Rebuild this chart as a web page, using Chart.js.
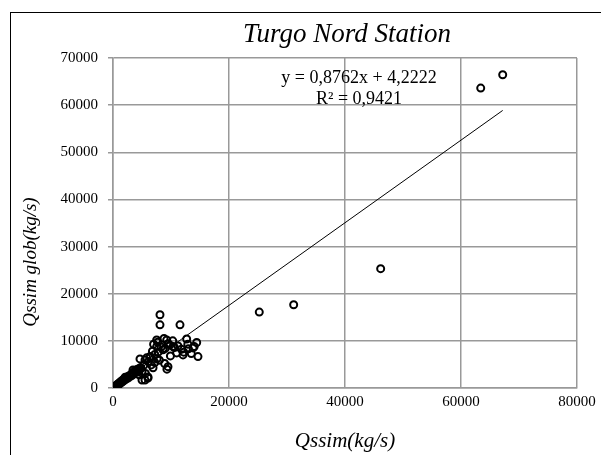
<!DOCTYPE html>
<html>
<head>
<meta charset="utf-8">
<script src="https://cdn.jsdelivr.net/npm/chart.js@4.4.1/dist/chart.umd.min.js"></script>
<style>
  body { margin: 0; background: #fff; }
  #wrap { position: relative; width: 601px; height: 455px; overflow: hidden; }
  #frame { position: absolute; left: 10px; top: 12px; width: 700px; height: 600px; border: 1px solid #000; }
  canvas { position: absolute; left: 0; top: 0; }
</style>
</head>
<body>
<div id="wrap"><div id="frame"></div><canvas id="scatterChart" width="601" height="455"></canvas></div>
<script>
const qssim = [
    0, 100, 200, 300, 400, 500, 600, 700, 800, 900, 1000, 1100, 1200, 1300, 1400, 1500,
    1600, 1700, 1800, 1900, 2000, 2100, 2200, 2300, 2500, 2600, 2800, 3000, 3200, 3300,
    3500, 3600, 3800, 4000, 4200, 4300, 4500, 4600, 4800, 5000,
    5517, 4655, 6030, 5517, 4310, 4655, 6380, 6030, 5000, 3450,
    8100, 8100, 11550, 7530, 9260, 12700, 14430, 13800, 14650, 12070, 10980, 9480, 9300,
    7530, 8620, 10340, 6380, 7000, 7700, 8300, 9000, 9800, 10600, 11200, 12200, 13000,
    13500, 6800, 7200, 7600, 8000, 8900, 6100, 5800, 6600, 7200, 5300, 9900, 12900, 11800,
    10300, 8800, 9500, 14000, 6900, 5600, 7800,
    25220, 31150, 46150, 63400, 67190
];
const qssimGlob = [
    0, 150, 100, 350, 250, 500, 400, 700, 550, 900, 800, 1100, 950, 1300, 1150, 1500,
    1300, 1700, 1500, 1900, 1700, 2300, 1900, 2000, 2400, 2100, 2600, 2500, 3000, 2700,
    3300, 3000, 3700, 3400, 4000, 3600, 2800, 3900, 4300, 3500,
    5960, 4250, 2340, 1700, 3400, 6170, 6600, 2130, 1700, 3830,
    15530, 13400, 13400, 10200, 10200, 10400, 9640, 8500, 6660, 7020, 7440, 4530, 4000,
    8790, 8090, 8790, 6660, 9300, 9700, 8700, 8400, 9100, 8600, 8900, 7600, 8300,
    7300, 7800, 7100, 6200, 5900, 5200, 5600, 6400, 4900, 5400, 4800, 6800, 9300, 8200,
    10000, 10500, 9400, 8800, 4300, 3100, 7600,
    16100, 17660, 25320, 63620, 66450
];

// linear trendline as printed on the chart
const slope = 0.8762;
const intercept = 4.2222;
const trendX = [0, 67190];
const eqLines = ['y = 0,8762x + 4,2222', 'R\u00b2 = 0,9421'];
const chartTitle = 'Turgo Nord Station';
const yTitle = 'Qssim glob(kg/s)';

const points = qssim.map((v, i) => ({ x: v, y: qssimGlob[i] }));
const trend = trendX.map(v => ({ x: v, y: slope * v + intercept }));

Chart.defaults.font.family = '"Liberation Serif", "Times New Roman", serif';
Chart.defaults.color = '#000';

// title, y axis title and trendline label drawn by hand so they sit where Excel put them
const labelsPlugin = {
    id: 'labels',
    afterDraw(chart) {
        const { ctx, chartArea } = chart;
        const cx = (chartArea.left + chartArea.right) / 2;
        ctx.save();
        ctx.fillStyle = '#000';
        ctx.textAlign = 'center';

        ctx.font = 'italic 27px "Liberation Serif"';
        ctx.textBaseline = 'middle';
        ctx.fillText(chartTitle, cx + 2, 35);

        ctx.font = '18px "Liberation Serif"';
        ctx.textBaseline = 'alphabetic';
        ctx.fillText(eqLines[0], chartArea.left + 246, chartArea.top + 25);
        ctx.fillText(eqLines[1], chartArea.left + 246, chartArea.top + 46);

        ctx.translate(31, 262);
        ctx.rotate(-Math.PI / 2);
        ctx.font = 'italic 19px "Liberation Serif"';
        ctx.textBaseline = 'middle';
        ctx.fillText(yTitle, 0, 0);
        ctx.restore();
    }
};

new Chart(document.getElementById('scatterChart'), {
    type: 'scatter',
    data: {
        datasets: [{
            data: points,
            pointStyle: 'circle',
            pointRadius: 3.5,
            borderWidth: 2,
            borderColor: '#000',
            backgroundColor: 'rgba(0,0,0,0)'
        }, {
            type: 'line',
            data: trend,
            borderColor: '#000',
            borderWidth: 1,
            pointRadius: 0,
            fill: false
        }]
    },
    options: {
        responsive: false,
        animation: false,
        devicePixelRatio: 1,
        layout: { padding: { left: 0, right: 24, top: 58, bottom: 0 } },
        plugins: {
            legend: { display: false },
            tooltip: { enabled: false },
            title: { display: false }
        },
        scales: {
            x: {
                type: 'linear',
                min: 0,
                max: 80000,
                afterFit: s => { s.height = 67; },
                ticks: { stepSize: 20000, font: { size: 15 }, padding: 5, callback: v => String(v) },
                grid: { color: '#999', lineWidth: 1.5, drawTicks: false },
                border: { color: '#999', width: 1.5 },
                title: {
                    display: true,
                    text: 'Qssim(kg/s)',
                    font: { size: 21, style: 'italic' },
                    padding: { top: 0, bottom: 1 }
                }
            },
            y: {
                min: 0,
                max: 70000,
                afterFit: s => { s.width = 113; },
                ticks: { stepSize: 10000, font: { size: 15 }, padding: 10, callback: v => String(v) },
                grid: { color: '#999', lineWidth: 1.5, tickLength: 5 },
                border: { color: '#999', width: 1.5 },
                title: { display: false }
            }
        }
    },
    plugins: [labelsPlugin]
});
</script>
</body>
</html>
